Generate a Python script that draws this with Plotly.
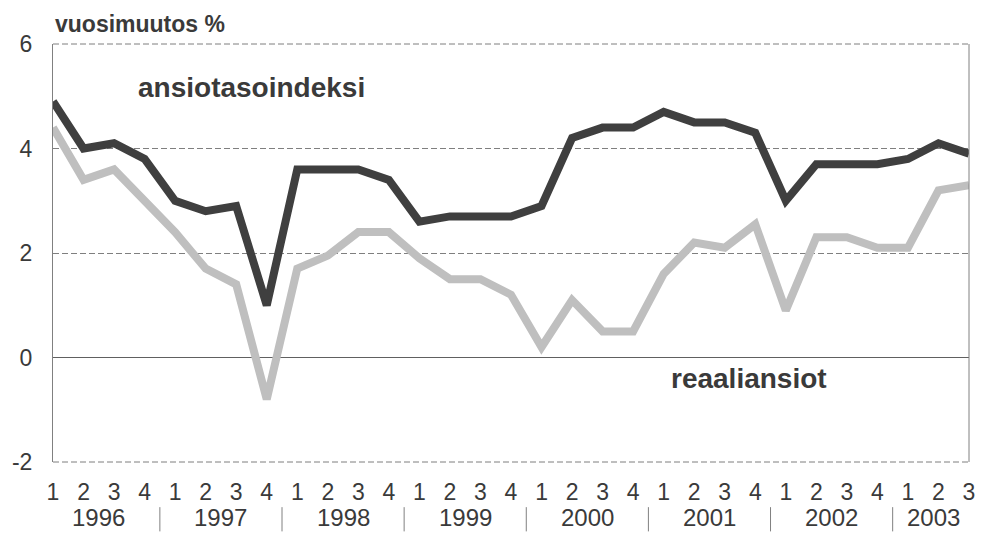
import plotly.graph_objects as go

quarters = ["1", "2", "3", "4"] * 7 + ["1", "2", "3"]
years = ["1996", "1997", "1998", "1999", "2000", "2001", "2002", "2003"]

ansiotasoindeksi = [4.9, 4.0, 4.1, 3.8,
                    3.0, 2.8, 2.9, 1.0,
                    3.6, 3.6, 3.6, 3.4,
                    2.6, 2.7, 2.7, 2.7,
                    2.9, 4.2, 4.4, 4.4,
                    4.7, 4.5, 4.5, 4.3,
                    3.0, 3.7, 3.7, 3.7,
                    3.8, 4.1, 3.9]
reaaliansiot = [4.4, 3.4, 3.6, 3.0,
                2.4, 1.7, 1.4, -0.8,
                1.7, 1.95, 2.4, 2.4,
                1.9, 1.5, 1.5, 1.2,
                0.2, 1.1, 0.5, 0.5,
                1.6, 2.2, 2.1, 2.55,
                0.9, 2.3, 2.3, 2.1,
                2.1, 3.2, 3.3]

x = list(range(len(quarters)))
FONT = "Arial, 'Liberation Sans', sans-serif"
TXT = "#3a3a3a"

W, H = 983, 533
ml, mr, mt, mb = 53, 8, 44, 71
pw, ph = W - ml - mr, H - mt - mb

fig = go.Figure()
fig.add_trace(go.Scatter(x=x, y=reaaliansiot, mode="lines",
                         line=dict(color="#bfbfbf", width=8), name="reaaliansiot"))
fig.add_trace(go.Scatter(x=x, y=ansiotasoindeksi, mode="lines",
                         line=dict(color="#3f3f3f", width=8), name="ansiotasoindeksi"))

shapes = []
# right border
shapes.append(dict(type="line", xref="paper", yref="paper", x0=1, x1=1, y0=0, y1=1,
                   line=dict(color="#808080", width=1)))
# top and bottom dashed lines
for yy in (0, 1):
    shapes.append(dict(type="line", xref="paper", yref="paper", x0=0, x1=1, y0=yy, y1=yy,
                       line=dict(color="#7f7f7f", width=1, dash="6px,3px")))
# year separators
for i in range(1, len(years)):
    xs = 4 * i - 0.5
    shapes.append(dict(type="line", xref="x", yref="paper", x0=xs, x1=xs,
                       y0=-0.108, y1=-0.166, line=dict(color="#808080", width=1)))

annotations = []
for i, yr in enumerate(years):
    if i < len(years) - 1:
        cx = 4 * i + 1.5
    else:
        cx = 28.85
    annotations.append(dict(x=cx, y=-0.133, xref="x", yref="paper", text=yr,
                            showarrow=False, font=dict(family=FONT, size=24, color=TXT),
                            xanchor="center", yanchor="middle"))
annotations.append(dict(x=(53 - ml) / pw, y=(H - mb - 24) / ph, xref="paper", yref="paper",
                        text="<b>vuosimuutos %</b>",
                        showarrow=False, font=dict(family=FONT, size=23, color=TXT),
                        xanchor="left", yanchor="middle"))
annotations.append(dict(x=6.5, y=5.17, xref="x", yref="y", text="<b>ansiotasoindeksi</b>",
                        showarrow=False, font=dict(family=FONT, size=28, color=TXT),
                        xanchor="center", yanchor="middle"))
annotations.append(dict(x=22.8, y=-0.4, xref="x", yref="y", text="<b>reaaliansiot</b>",
                        showarrow=False, font=dict(family=FONT, size=28, color=TXT),
                        xanchor="center", yanchor="middle"))

fig.update_layout(
    width=W, height=H,
    margin=dict(l=ml, r=mr, t=mt, b=mb),
    paper_bgcolor="white", plot_bgcolor="white",
    showlegend=False,
    shapes=shapes, annotations=annotations,
    xaxis=dict(range=[0, 30], tickvals=x, ticktext=quarters, showgrid=False,
               zeroline=False, showline=False, ticks="",
               tickfont=dict(family=FONT, size=23, color=TXT),
               ticklabelstandoff=14),
    yaxis=dict(range=[-2, 6], tickvals=[-2, 0, 2, 4, 6], ticktext=["-2", "0", "2", "4", "6"],
               showgrid=True, gridcolor="#7f7f7f", gridwidth=1, griddash="6px,3px",
               zeroline=True, zerolinecolor="#606060", zerolinewidth=1,
               showline=True, linecolor="#808080", linewidth=1, ticks="",
               tickfont=dict(family=FONT, size=23, color=TXT),
               ticklabelstandoff=15),
)

fig.write_html("out.html", config={"displayModeBar": False},
               post_script="document.body.style.margin='0';document.body.style.overflow='hidden';")
